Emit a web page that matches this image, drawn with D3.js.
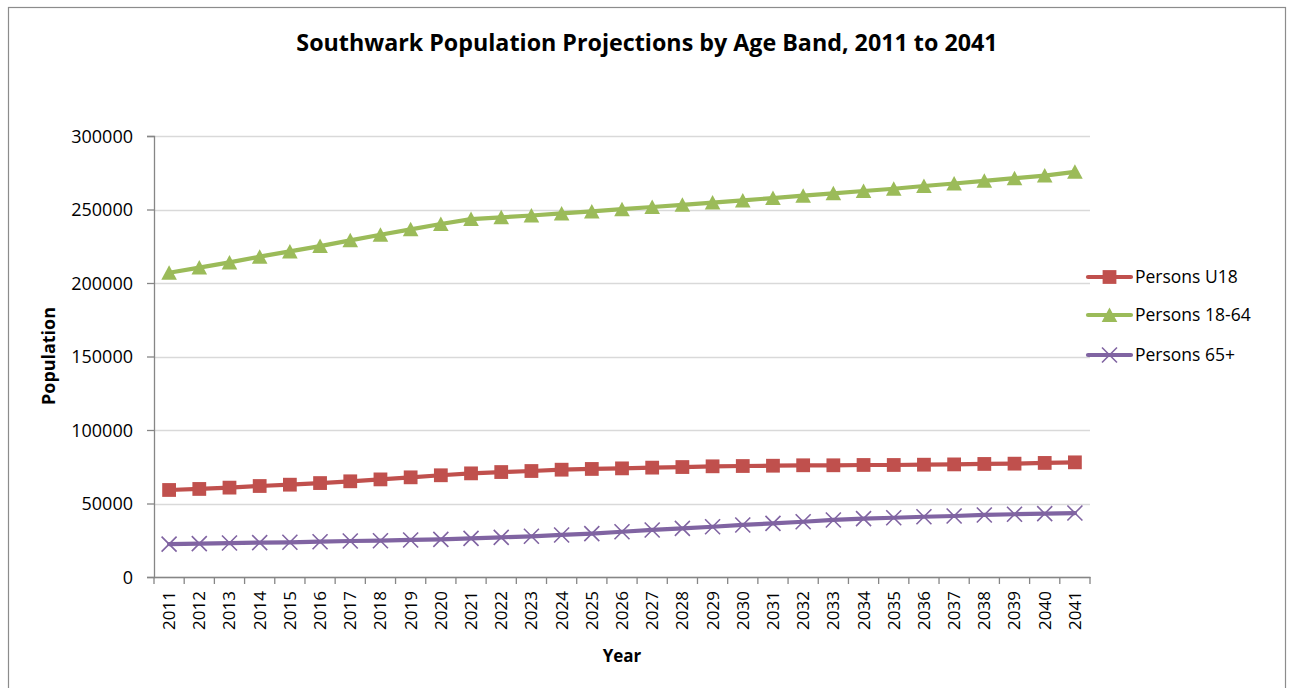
<!DOCTYPE html>
<html>
<head>
<meta charset="utf-8">
<script src="https://cdnjs.cloudflare.com/ajax/libs/d3/7.8.5/d3.min.js"></script>
<style>
  html, body { margin: 0; padding: 0; background: #ffffff; }
  svg { display: block; }
</style>
</head>
<body>
<svg id="chart" width="1291" height="688"></svg>
<script>
const years = [2011,2012,2013,2014,2015,2016,2017,2018,2019,2020,2021,2022,2023,2024,2025,2026,2027,2028,2029,2030,2031,2032,2033,2034,2035,2036,2037,2038,2039,2040,2041];
const personsU18 = [59200,59900,60800,61900,62800,63900,65100,66400,67800,69200,70500,71400,72100,73000,73500,73900,74400,74800,75300,75500,75700,76000,76000,76200,76200,76400,76600,76900,77100,77600,78000];
const persons18to64 = [207000,210500,214000,217900,221500,225100,229000,232800,236500,240100,243500,244700,245900,247300,248700,250200,251700,253200,254700,256200,257800,259400,261000,262600,264100,266000,267700,269500,271300,273100,275600];
const persons65plus = [22400,22700,23100,23400,23600,24000,24500,24700,25200,25600,26300,27000,27700,28600,29500,30800,32000,33100,34200,35400,36500,37600,38800,39700,40300,41000,41500,42200,42700,43100,43500];
const yTicks = [0,50000,100000,150000,200000,250000,300000];
const seriesNames = ["Persons U18","Persons 18-64","Persons 65+"];
const seriesColors = ["#C0504D","#9BBB59","#8064A2"];
const seriesMarkers = ["square","triangle","cross"];
const titleText = "Southwark Population Projections by Age Band, 2011 to 2041";
const xTitle = "Year";
const yTitle = "Population";

(function () {
const svg = d3.select("#chart");
const FONT = "'Open Sans', 'Liberation Sans', sans-serif";

// frame
svg.append("rect").attr("x", 8.5).attr("y", 7.5).attr("width", 1277).attr("height", 700)
  .attr("fill", "#fff").attr("stroke", "#8c8c8c").attr("stroke-width", 1.2);

const pLeft = 154, pRight = 1090, pTop = 136, pBottom = 577;
const x = d3.scaleBand().domain(years).range([pLeft, pRight]).padding(0);
const y = d3.scaleLinear().domain([0, 300000]).range([pBottom, pTop]);
const cx = d => x(d) + x.bandwidth() / 2;

// gridlines
svg.append("g").selectAll("line").data(yTicks).join("line")
  .attr("x1", pLeft).attr("x2", pRight)
  .attr("y1", d => Math.round(y(d)) + 0.5).attr("y2", d => Math.round(y(d)) + 0.5)
  .attr("stroke", "#d9d9d9").attr("stroke-width", 1.3);

// y axis
const yAxis = svg.append("g").attr("transform", `translate(${pLeft},0)`)
  .call(d3.axisLeft(y).tickValues(yTicks).tickFormat(d3.format("d")).tickSize(7).tickPadding(14));
yAxis.select(".domain").attr("stroke", "#868686").attr("stroke-width", 1.3);
yAxis.selectAll(".tick line").attr("stroke", "#868686").attr("stroke-width", 1.3);
yAxis.selectAll("text").attr("font-family", FONT).attr("font-size", 18).attr("fill", "#000").attr("dy", "0.34em");

// x axis
const xAxis = svg.append("g").attr("transform", `translate(0,${pBottom})`)
  .call(d3.axisBottom(x).tickSize(0).tickPadding(0));
xAxis.select(".domain").attr("stroke", "#868686").attr("stroke-width", 1.3);
xAxis.selectAll(".tick text")
  .attr("font-family", FONT).attr("font-size", 17).attr("fill", "#000")
  .attr("text-anchor", "end")
  .attr("transform", "translate(0,14) rotate(-90)")
  .attr("x", 0).attr("y", 0).attr("dy", "0.35em");
// category boundary ticks
const edges = years.map(d => x(d)).concat([x(years[years.length - 1]) + x.bandwidth()]);
svg.append("g").selectAll("line").data(edges).join("line")
  .attr("x1", d => d).attr("x2", d => d)
  .attr("y1", pBottom).attr("y2", pBottom + 7)
  .attr("stroke", "#868686").attr("stroke-width", 1.3);

// lines
const series = [personsU18, persons18to64, persons65plus];
const line = d3.line().x((d, i) => cx(years[i])).y(d => y(d));
const sq = d3.symbol().type(d3.symbolSquare).size(190);

function drawMarker(g, type, color, px, py) {
  if (type === "square") {
    g.append("path").attr("d", sq()).attr("transform", `translate(${px},${py})`).attr("fill", color);
  } else if (type === "triangle") {
    g.append("path").attr("d", "M0,-7.5L7.8,7L-7.8,7Z").attr("transform", `translate(${px},${py})`).attr("fill", color);
  } else {
    const r = 7.5;
    g.append("path").attr("d", `M${px - r},${py - r}L${px + r},${py + r}M${px - r},${py + r}L${px + r},${py - r}`)
      .attr("stroke", color).attr("stroke-width", 1.6).attr("fill", "none");
  }
}

series.forEach((vals, k) => {
  const g = svg.append("g");
  g.append("path").datum(vals).attr("d", line).attr("fill", "none")
    .attr("stroke", seriesColors[k]).attr("stroke-width", 4.2).attr("stroke-linejoin", "round").attr("stroke-linecap", "round");
  vals.forEach((v, i) => drawMarker(g, seriesMarkers[k], seriesColors[k], cx(years[i]), y(v)));
});

// legend
const legendY = [277, 315, 355];
seriesNames.forEach((name, k) => {
  const g = svg.append("g");
  g.append("line").attr("x1", 1088).attr("x2", 1131).attr("y1", legendY[k]).attr("y2", legendY[k])
    .attr("stroke", seriesColors[k]).attr("stroke-width", 4.2).attr("stroke-linecap", "round");
  drawMarker(g, seriesMarkers[k], seriesColors[k], 1109.5, legendY[k]);
  g.append("text").attr("x", 1135).attr("y", legendY[k]).attr("dy", "0.35em")
    .attr("font-family", FONT).attr("font-size", 17.5).attr("fill", "#000").text(name);
});

// title
const t = svg.append("text").attr("x", 647).attr("y", 51).attr("text-anchor", "middle")
  .attr("font-family", FONT).attr("font-weight", "bold").attr("font-size", 21).attr("fill", "#000").text(titleText);
const tw = t.node().getComputedTextLength();
if (tw > 0) t.attr("font-size", 21 * 702 / tw);

// axis titles
svg.append("text").attr("x", 622).attr("y", 662).attr("text-anchor", "middle")
  .attr("font-family", FONT).attr("font-weight", "bold").attr("font-size", 17).attr("fill", "#000").text(xTitle);
const yt = svg.append("text").attr("transform", "translate(55,356) rotate(-90)").attr("text-anchor", "middle")
  .attr("font-family", FONT).attr("font-weight", "bold").attr("font-size", 17).attr("fill", "#000").text(yTitle);
const ytw = yt.node().getComputedTextLength();
if (ytw > 0) yt.attr("font-size", 17 * 98 / ytw);
})();
</script>
</body>
</html>
